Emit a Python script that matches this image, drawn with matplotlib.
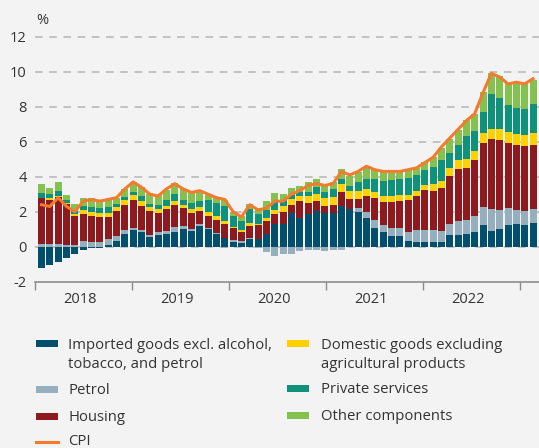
import matplotlib
matplotlib.use("Agg")
import matplotlib.pyplot as plt
from matplotlib.patches import Rectangle
from matplotlib.lines import Line2D
import numpy as np

plt.rcParams['font.family'] = ['Open Sans', 'DejaVu Sans']

years = ['2018', '2019', '2020', '2021', '2022']

imported = [-1.21, -1.06, -0.87, -0.66, -0.42, -0.20, -0.06, -0.08, 0.10, 0.30, 0.70, 0.93,
            0.85, 0.54, 0.67, 0.70, 0.85, 1.00, 0.88, 1.19, 1.00, 0.75, 0.50, 0.27,
            0.20, 0.46, 0.42, 0.75, 1.32, 1.32, 1.90, 1.64, 1.89, 2.04, 1.93, 1.93,
            2.30, 2.13, 1.98, 1.64, 1.07, 0.85, 0.60, 0.60, 0.32, 0.28, 0.28, 0.28,
            0.27, 0.65, 0.65, 0.73, 0.83, 1.22, 0.88, 0.99, 1.22, 1.28, 1.22, 1.33]
petrol = [0.14, 0.13, 0.14, 0.10, 0.10, 0.30, 0.25, 0.25, 0.34, 0.29, 0.23, 0.15,
          0.10, 0.11, 0.15, 0.19, 0.29, 0.17, 0.15, 0.10, 0.05, 0.03, -0.05, 0.10,
          0.15, 0.06, -0.06, -0.30, -0.53, -0.44, -0.40, -0.25, -0.21, -0.21, -0.25, -0.20,
          -0.20, 0.02, 0.23, 0.34, 0.44, 0.38, 0.48, 0.48, 0.53, 0.67, 0.70, 0.67,
          0.61, 0.63, 0.80, 0.78, 0.91, 1.05, 1.26, 1.09, 0.99, 0.80, 0.80, 0.80]
housing = [2.65, 2.55, 2.70, 2.36, 1.64, 1.58, 1.50, 1.43, 1.26, 1.43, 1.43, 1.60,
           1.39, 1.39, 1.10, 1.24, 1.24, 1.05, 0.90, 0.76, 0.70, 0.76, 0.82, 0.67,
           0.50, 0.69, 0.80, 0.70, 0.53, 0.67, 0.48, 0.97, 0.61, 0.57, 0.42, 0.45,
           0.82, 0.57, 0.53, 0.90, 1.28, 1.33, 1.49, 1.54, 1.81, 1.94, 2.25, 2.25,
           2.48, 2.74, 2.97, 2.99, 3.20, 3.66, 4.00, 4.02, 3.71, 3.71, 3.73, 3.66]
domestic = [0.00, 0.10, 0.05, 0.06, 0.15, 0.23, 0.21, 0.25, 0.25, 0.25, 0.30, 0.30,
            0.27, 0.23, 0.25, 0.17, 0.23, 0.15, 0.21, 0.21, 0.23, 0.23, 0.13, 0.10,
            0.08, 0.15, 0.10, 0.21, 0.27, 0.34, 0.32, 0.27, 0.40, 0.42, 0.44, 0.44,
            0.44, 0.46, 0.42, 0.40, 0.34, 0.32, 0.32, 0.32, 0.29, 0.29, 0.29, 0.38,
            0.38, 0.48, 0.51, 0.50, 0.53, 0.57, 0.57, 0.61, 0.63, 0.63, 0.61, 0.70]
services = [0.27, 0.22, 0.27, 0.15, 0.15, 0.19, 0.32, 0.30, 0.30, 0.15, 0.17, 0.17,
            0.30, 0.19, 0.19, 0.38, 0.40, 0.32, 0.36, 0.34, 0.69, 0.72, 0.88, 0.60,
            0.53, 0.78, 0.57, 0.42, 0.44, 0.36, 0.25, 0.25, 0.23, 0.38, 0.34, 0.50,
            0.29, 0.29, 0.53, 0.57, 0.72, 0.88, 0.91, 0.90, 0.95, 0.91, 0.86, 0.99,
            1.20, 0.86, 0.86, 1.31, 1.12, 1.20, 2.00, 1.79, 1.52, 1.50, 1.49, 1.64]
other = [0.51, 0.36, 0.51, 0.29, 0.38, 0.50, 0.48, 0.45, 0.45, 0.38, 0.47, 0.55,
         0.51, 0.57, 0.61, 0.57, 0.61, 0.63, 0.55, 0.53, 0.27, 0.29, 0.32, 0.25,
         0.29, 0.32, 0.30, 0.51, 0.48, 0.34, 0.38, 0.32, 0.57, 0.45, 0.42, 0.35,
         0.61, 0.57, 0.57, 0.67, 0.51, 0.51, 0.48, 0.44, 0.48, 0.38, 0.48, 0.57,
         0.72, 0.82, 0.86, 0.91, 0.97, 1.12, 1.22, 1.24, 1.28, 1.49, 1.47, 1.37]
cpi = [2.4, 2.3, 2.8, 2.3, 2.0, 2.6, 2.7, 2.6, 2.7, 2.8, 3.3, 3.7,
       3.4, 3.0, 2.9, 3.3, 3.6, 3.3, 3.1, 3.2, 3.0, 2.8, 2.7, 2.0,
       1.7, 2.4, 2.1, 2.2, 2.6, 2.6, 3.0, 3.2, 3.5, 3.6, 3.5, 3.6,
       4.3, 4.1, 4.3, 4.6, 4.4, 4.3, 4.3, 4.3, 4.4, 4.5, 4.8, 5.1,
       5.7, 6.2, 6.7, 7.2, 7.6, 8.8, 9.9, 9.7, 9.3, 9.4, 9.3, 9.6]

labels = ['Imported goods excl. alcohol,\ntobacco, and petrol', 'Petrol', 'Housing',
          'Domestic goods excluding\nagricultural products', 'Private services',
          'Other components']
colors = ['#014f6d', '#95afbe', '#8d1a1f', '#ffd100', '#0f917a', '#84c150']
cpi_color = '#f47a2e'
bg = '#f3f3f3'

W, H = 539, 448
fig = plt.figure(figsize=(W / 100, H / 100), dpi=100, facecolor=bg)
ax = fig.add_axes([35 / W, 1 - 281.7 / H, 504 / W, 245 / H])
ax.set_facecolor(bg)

series = [imported, petrol, housing, domestic, services, other]
n = len(cpi)
x = np.arange(n)
pos_base = np.zeros(n)
neg_base = np.zeros(n)
for vals, col in zip(series, colors):
    v = np.array(vals)
    base = np.where(v >= 0, pos_base, neg_base)
    ax.bar(x, v, bottom=base, width=0.84, color=col, linewidth=0, zorder=2)
    pos_base += np.where(v >= 0, v, 0)
    neg_base += np.where(v < 0, v, 0)

ax.plot(x, cpi, color=cpi_color, lw=2.2, zorder=3, solid_joinstyle='round')

ax.set_ylim(-2, 12)
ax.set_xlim(-0.78, 59.72)
for yv in range(0, 13, 2):
    ax.axhline(yv, color='#b5b5b5', lw=1.1, dashes=(5, 4.3), zorder=1, clip_on=False)

ax.set_yticks(range(-2, 13, 2))
ax.set_yticklabels([str(v) for v in range(-2, 13, 2)], fontsize=10.5, color='#333333')
ax.tick_params(axis='y', length=0, pad=6)

step = 11.645
ticks = [-0.78 + k * step for k in range(6)]
ax.set_xticks(ticks)
ax.set_xticklabels([])
ax.tick_params(axis='x', length=6, width=1, color='#8c8c8c', direction='out')
for k, yr in enumerate(years):
    ax.text((ticks[k] + ticks[k + 1]) / 2 - 0.45, -0.085, yr, transform=ax.get_xaxis_transform(),
            ha='center', va='baseline', fontsize=10.5, color='#333333')

for s in ['left', 'right', 'top']:
    ax.spines[s].set_visible(False)
ax.spines['bottom'].set_color('#8c8c8c')
ax.spines['bottom'].set_linewidth(1.2)

fig.text(36.5 / W, 1 - 24 / H, '%', fontsize=10.5, color='#333333', va='baseline')

# legend (manual placement)
def handle(xp, yc, col):
    fig.add_artist(Rectangle((xp / W, 1 - (yc + 3.5) / H), 22 / W, 7 / H,
                             transform=fig.transFigure, color=col, lw=0))

def ltext(xp, yb, s):
    fig.text(xp / W, 1 - yb / H, s, fontsize=10.7, color='#333333', va='baseline')

col1 = [(0, 343, [349.3, 367.7]), (1, 389, [394.0]), (2, 416, [421.0])]
col2 = [(3, 343, [349.3, 367.7]), (4, 388, [393.3]), (5, 415, [420.0])]
for xh, xt, entries in [(36, 68, col1), (287, 321, col2)]:
    for idx, yc, bases in entries:
        handle(xh, yc, colors[idx])
        for line, yb in zip(labels[idx].split('\n'), bases):
            ltext(xt, yb, line)

fig.add_artist(Line2D([36 / W, 58 / W], [1 - 442.0 / H, 1 - 442.0 / H],
                      transform=fig.transFigure, color=cpi_color, lw=2.2))
ltext(68, 445.0, 'CPI')

fig.savefig('out.png', dpi=100, facecolor=bg)
